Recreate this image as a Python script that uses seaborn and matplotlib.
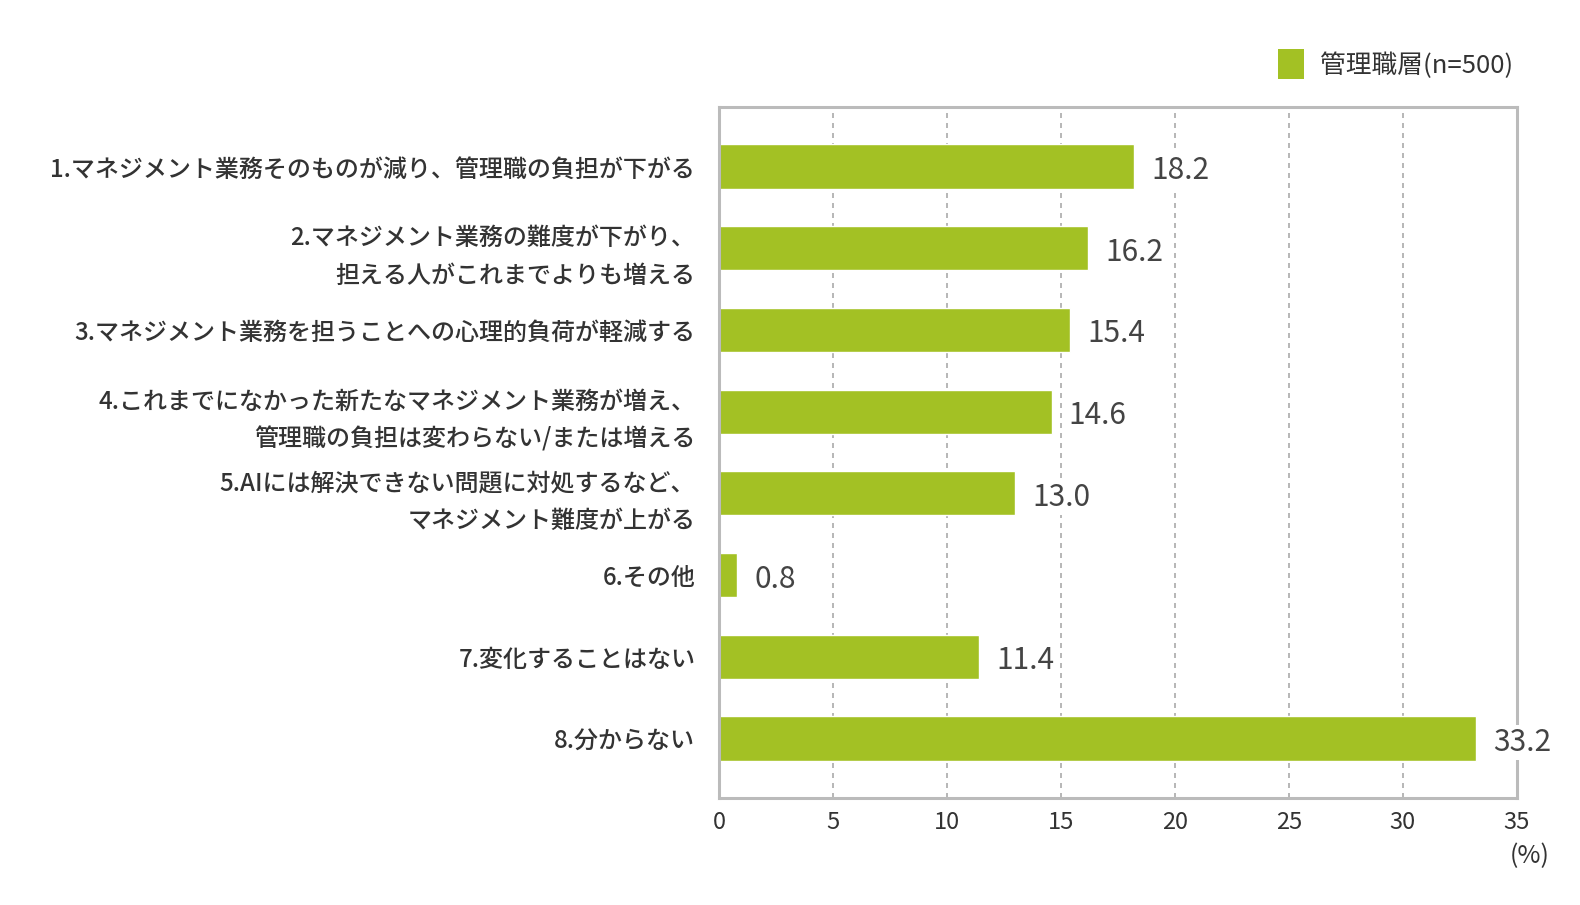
import matplotlib.pyplot as plt
import seaborn as sns
import pandas as pd
from matplotlib.patches import Patch

sns.set_theme(style="white")
plt.rcParams['font.family'] = ['Noto Sans CJK JP', 'DejaVu Sans']

# data
categories = [
    "1.マネジメント業務そのものが減り、管理職の負担が下がる",
    "2.マネジメント業務の難度が下がり、\n担える人がこれまでよりも増える",
    "3.マネジメント業務を担うことへの心理的負荷が軽減する",
    "4.これまでになかった新たなマネジメント業務が増え、\n管理職の負担は変わらない/または増える",
    "5.AIには解決できない問題に対処するなど、\nマネジメント難度が上がる",
    "6.その他",
    "7.変化することはない",
    "8.分からない",
]
values = [18.2, 16.2, 15.4, 14.6, 13.0, 0.8, 11.4, 33.2]
series_name = "管理職層(n=500)"
x_ticks = [0, 5, 10, 15, 20, 25, 30, 35]

bar_color = "#a3c124"
text_color = "#333333"
frame_color = "#bbbbbb"

df = pd.DataFrame({"category": categories, "value": values})

fig = plt.figure(figsize=(15.8, 9.05), dpi=100)
ax = fig.add_axes([0.455, 0.118, 0.505, 0.764])

sns.barplot(data=df, x="value", y="category", orient="h", color=bar_color,
            width=0.54, saturation=1, ax=ax, zorder=2)

ax.set_xlim(0, 35)
ax.set_ylim(len(categories) - 0.5 + 0.23, -0.5 - 0.23)
ax.set_xticks(x_ticks)
ax.set_xticklabels([str(t) for t in x_ticks], fontsize=17, color=text_color)
ax.tick_params(axis="x", length=0, pad=9)
ax.tick_params(axis="y", length=0, pad=17)
for lbl in ax.get_yticklabels():
    lbl.set_fontsize(17.3)
    lbl.set_fontweight("medium")
    lbl.set_color(text_color)
    lbl.set_linespacing(1.6)
ax.set_xlabel("")
ax.set_ylabel("")

# dashed vertical gridlines
for t in x_ticks[1:-1]:
    ax.axvline(t, color="#aaaaaa", linestyle=(0, (3, 3)), linewidth=1.2, zorder=0)

for side in ["top", "bottom", "left", "right"]:
    ax.spines[side].set_color(frame_color)
    ax.spines[side].set_linewidth(2.2)

# value labels on white boxes, covering the grid and the frame
for i, v in enumerate(values):
    ax.text(v + 0.75, i + 0.05, f"{v:.1f}", va="center", ha="left",
            fontsize=21.5, color="#444444", zorder=5, clip_on=False,
            bbox=dict(facecolor="white", edgecolor="none", pad=1.5))

# unit label
fig.text(0.968, 0.054, "(%)", ha="center", va="center", fontsize=18, color=text_color)

# legend
handle = Patch(facecolor=bar_color, edgecolor="none")
fig.legend([handle], [series_name], loc="center right",
           bbox_to_anchor=(0.972, 0.929), frameon=False, fontsize=18.5,
           handlelength=1.0, handleheight=1.4, handletextpad=0.6,
           labelcolor=text_color)

fig.savefig("out.png", dpi=100)
